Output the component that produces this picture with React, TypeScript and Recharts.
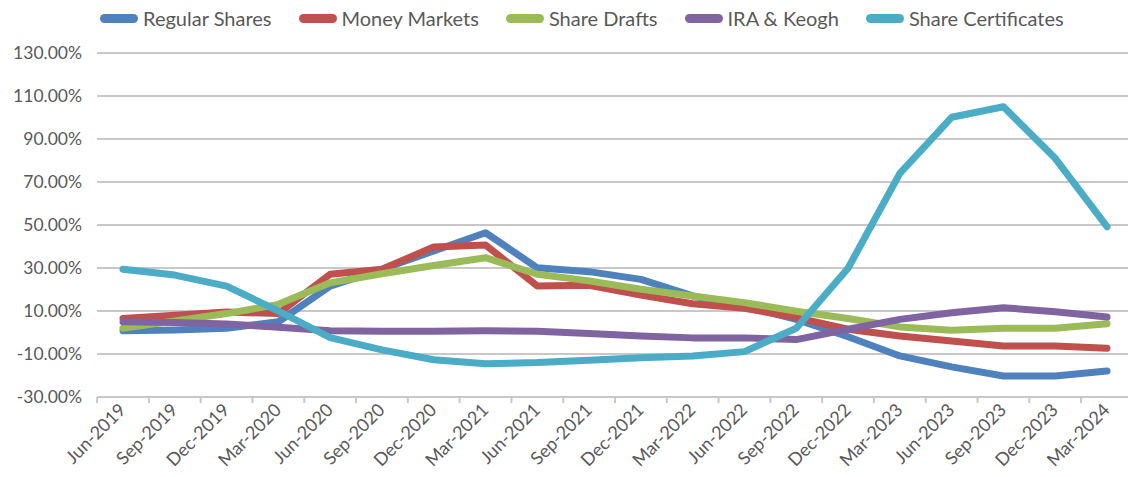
import React from 'react';
import { LineChart, Line, XAxis, YAxis, CartesianGrid } from 'recharts';

const months = [
    'Jun-2019', 'Sep-2019', 'Dec-2019', 'Mar-2020', 'Jun-2020', 'Sep-2020', 'Dec-2020',
    'Mar-2021', 'Jun-2021', 'Sep-2021', 'Dec-2021', 'Mar-2022', 'Jun-2022', 'Sep-2022',
    'Dec-2022', 'Mar-2023', 'Jun-2023', 'Sep-2023', 'Dec-2023', 'Mar-2024',
];

const regularShares = [0.8, 1.2, 2.0, 5.0, 21.6, 29.4, 37.9, 46.4, 30.1, 28.3, 24.7, 17.0, 12.3, 6.1, -2.0, -10.9, -16.0, -20.2, -20.2, -17.9];
const moneyMarkets = [6.5, 8.0, 9.5, 8.8, 27.1, 29.4, 39.8, 40.7, 21.6, 22.0, 17.4, 13.4, 11.3, 6.9, 1.5, -1.6, -4.0, -6.3, -6.3, -7.3];
const shareDrafts = [2.0, 5.4, 8.8, 13.1, 23.1, 27.3, 31.2, 34.8, 27.1, 24.0, 20.1, 17.0, 13.9, 9.9, 6.5, 2.6, 1.0, 2.0, 2.0, 4.1];
const iraKeogh = [5.0, 4.6, 4.0, 2.4, 0.8, 0.6, 0.6, 0.8, 0.6, -0.5, -1.6, -2.5, -2.5, -3.3, 1.5, 6.1, 9.2, 11.5, 9.7, 7.2];
const shareCertificates = [29.4, 26.7, 21.6, 10.0, -2.4, -8.1, -12.7, -14.5, -14.0, -12.9, -11.7, -10.9, -8.9, 2.0, 29.9, 74.0, 100.1, 105.0, 81.0, 49.2];

const yTicks = [-30, -10, 10, 30, 50, 70, 90, 110, 130];

const series = [
    { key: 'regular', name: 'Regular Shares', color: '#4f81bd' },
    { key: 'money', name: 'Money Markets', color: '#c0504d' },
    { key: 'drafts', name: 'Share Drafts', color: '#9bbb59' },
    { key: 'ira', name: 'IRA & Keogh', color: '#8064a2' },
    { key: 'certs', name: 'Share Certificates', color: '#4bacc6' },
];

const data = months.map((month, i) => ({
    month,
    regular: regularShares[i],
    money: moneyMarkets[i],
    drafts: shareDrafts[i],
    ira: iraKeogh[i],
    certs: shareCertificates[i],
}));

const CHART_W = 1150;
const CHART_H = 477;
const Y_AXIS_W = 97;
const RIGHT = 17;
const PAD = 26;
const STEP = (CHART_W - Y_AXIS_W - RIGHT - 2 * PAD) / (months.length - 1);

const MonthTick = (props: any) => {
    const { x, y, payload, index } = props;
    const last = index === months.length - 1;
    return (
        <g>
            <line x1={x - STEP / 2} x2={x - STEP / 2} y1={y} y2={y + 6} stroke="#c8c8c8" strokeWidth={2} />
            {last && <line x1={x + STEP / 2} x2={x + STEP / 2} y1={y} y2={y + 6} stroke="#c8c8c8" strokeWidth={2} />}
            <text x={x + 4} y={y + 14} transform={`rotate(-45, ${x + 4}, ${y + 14})`} textAnchor="end" fill="#595959" fontSize={18} fontFamily="Lato">
                {payload.value}
            </text>
        </g>
    );
};

export default function App() {
    return (
        <div style={{ position: 'absolute', left: 0, top: 0, width: 1128, height: 477, overflow: 'hidden', background: '#fff', fontFamily: 'Lato' }}>
            <div style={{ position: 'absolute', top: 6, left: 100, display: 'flex', alignItems: 'center', gap: 27, zIndex: 2 }}>
                {series.map((s) => (
                    <div key={s.key} style={{ display: 'flex', alignItems: 'center' }}>
                        <span style={{ display: 'inline-block', width: 38, height: 9, borderRadius: 5, background: s.color, marginRight: 5 }} />
                        <span style={{ fontSize: 20, color: '#595959', whiteSpace: 'nowrap' }}>{s.name}</span>
                    </div>
                ))}
            </div>
            <LineChart width={CHART_W} height={CHART_H} data={data} margin={{ top: 53, right: RIGHT, left: 0, bottom: 0 }}>
                <CartesianGrid vertical={false} stroke="#c8c8c8" strokeWidth={2} />
                <XAxis
                    dataKey="month"
                    height={80}
                    padding={{ left: PAD, right: PAD }}
                    interval={0}
                    tickLine={false}
                    tickSize={0}
                    tickMargin={0}
                    axisLine={{ stroke: '#c8c8c8', strokeWidth: 2 }}
                    tick={<MonthTick />}
                />
                <YAxis
                    width={Y_AXIS_W}
                    domain={[-30, 130]}
                    ticks={yTicks}
                    axisLine={false}
                    tickLine={false}
                    tickSize={0}
                    tickMargin={15}
                    tick={{ fill: '#595959', fontSize: 17.5, fontFamily: 'Lato' }}
                    tickFormatter={(v: number) => `${v.toFixed(2)}%`}
                />
                {series.map((s) => (
                    <Line
                        key={s.key}
                        type="linear"
                        dataKey={s.key}
                        name={s.name}
                        stroke={s.color}
                        strokeWidth={7}
                        strokeLinecap="round"
                        strokeLinejoin="round"
                        dot={false}
                        isAnimationActive={false}
                    />
                ))}
            </LineChart>
        </div>
    );
}
